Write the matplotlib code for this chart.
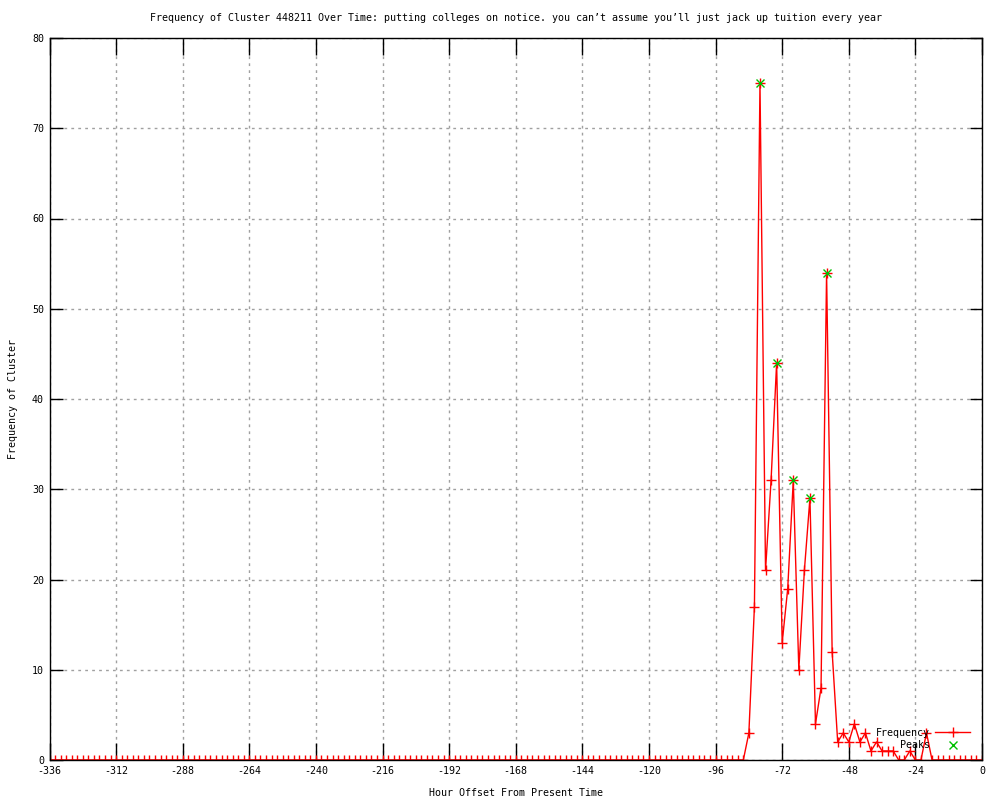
import matplotlib
matplotlib.use("Agg")
import matplotlib.pyplot as plt
import numpy as np

plt.rcParams['font.family'] = ['DejaVu Sans Mono']
plt.rcParams['font.size'] = 7.2
plt.rcParams['axes.unicode_minus'] = False

# hours before present, one sample every 2 hours
hours = np.arange(-336, 1, 2)
frequency = [
    0, 0, 0, 0, 0, 0, 0, 0, 0, 0, 0, 0, 0, 0, 0, 0, 0, 0, 0, 0,   # -336 .. -298
    0, 0, 0, 0, 0, 0, 0, 0, 0, 0, 0, 0, 0, 0, 0, 0, 0, 0, 0, 0,   # -296 .. -258
    0, 0, 0, 0, 0, 0, 0, 0, 0, 0, 0, 0, 0, 0, 0, 0, 0, 0, 0, 0,   # -256 .. -218
    0, 0, 0, 0, 0, 0, 0, 0, 0, 0, 0, 0, 0, 0, 0, 0, 0, 0, 0, 0,   # -216 .. -178
    0, 0, 0, 0, 0, 0, 0, 0, 0, 0, 0, 0, 0, 0, 0, 0, 0, 0, 0, 0,   # -176 .. -138
    0, 0, 0, 0, 0, 0, 0, 0, 0, 0, 0, 0, 0, 0, 0, 0, 0, 0, 0, 0,   # -136 .. -98
    0, 0, 0, 0, 0, 0,                                             # -96 .. -86
    3, 17, 75, 21, 31, 44, 13, 19, 31, 10, 21, 29, 4, 8, 54, 12,  # -84 .. -54
    2, 3, 2, 4, 2, 3, 1, 2, 1, 1, 1, 0, 0, 1, 0, 0, 3,            # -52 .. -20
    0, 0, 0, 0, 0, 0, 0, 0, 0, 0,                                 # -18 .. 0
]

peak_hours = [-80, -74, -68, -62, -56]
peak_values = [75, 44, 31, 29, 54]

fig = plt.figure(figsize=(10, 8), dpi=100)
ax = fig.add_axes([0.0495, 0.05, 0.9325, 0.9025])

ax.plot(hours, frequency, color='#ff0000', linewidth=1, marker='+',
        markersize=7, markeredgewidth=1, label='Frequency')
ax.plot(peak_hours, peak_values, linestyle='none', color='#00c000',
        marker='x', markersize=6, markeredgewidth=1, label='Peaks')

ax.set_xlim(-336, 0)
ax.set_ylim(0, 80)
ax.set_xticks(np.arange(-336, 1, 24))
ax.set_yticks(np.arange(0, 81, 10))
ax.tick_params(direction='in', top=True, right=True, width=1,
               labelsize=7.2, pad=4)
ax.tick_params(axis='x', length=12)
ax.tick_params(axis='y', length=9)
ax.grid(True, color='#a0a0a0', linestyle=(0, (2, 3)), linewidth=1)
for s in ax.spines.values():
    s.set_linewidth(1)

ax.set_title("Frequency of Cluster 448211 Over Time: putting colleges on notice. "
             "you can\u2019t assume you\u2019ll just jack up tuition every year",
             fontsize=7.2, pad=12)
ax.set_xlabel('Hour Offset From Present Time', fontsize=7.2, labelpad=9)
ax.set_ylabel('Frequency of Cluster', fontsize=7.2, labelpad=10)

ax.legend(loc='lower right', frameon=False, markerfirst=False, fontsize=7.2,
          handlelength=3.5, handletextpad=0.5, borderaxespad=0.6,
          labelspacing=0.25, bbox_to_anchor=(0.998, 0.0))

fig.savefig('out.png', dpi=100)
